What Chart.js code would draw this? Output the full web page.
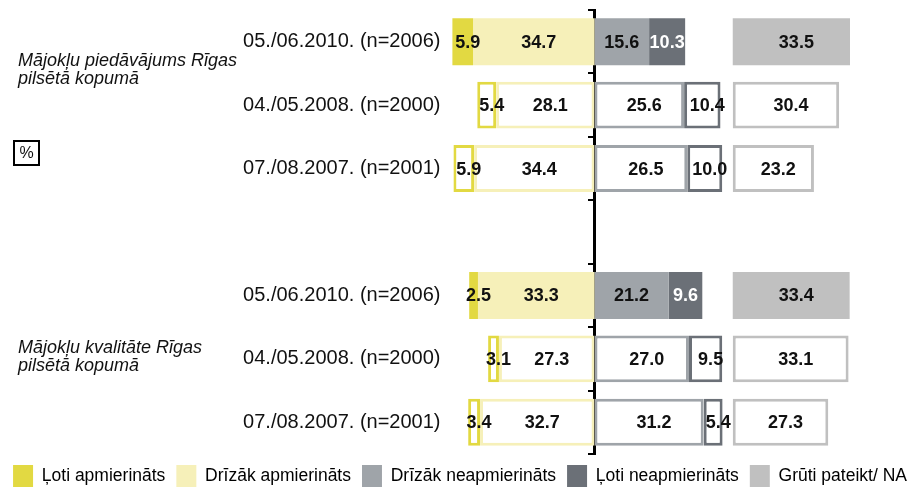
<!DOCTYPE html>
<html>
<head>
<meta charset="utf-8">
<script src="https://cdn.jsdelivr.net/npm/chart.js@4.4.0/dist/chart.umd.min.js"></script>
<style>
  html, body { margin: 0; padding: 0; background: #fff; }
  #wrap { width: 920px; height: 491px; position: relative; }
</style>
</head>
<body>
<div id="wrap"><canvas id="chart"></canvas></div>
<script>
const labels = [
    '05./06.2010. (n=2006)', '04./05.2008. (n=2000)', '07./08.2007. (n=2001)',
    '',
    '05./06.2010. (n=2006)', '04./05.2008. (n=2000)', '07./08.2007. (n=2001)'
];
const veryGood = [5.9, 5.4, 5.9, null, 2.5, 3.1, 3.4];
const ratherGood = [34.7, 28.1, 34.4, null, 33.3, 27.3, 32.7];
const ratherBad = [15.6, 25.6, 26.5, null, 21.2, 27.0, 31.2];
const veryBad = [10.3, 10.4, 10.0, null, 9.6, 9.5, 5.4];
const hardToSay = [33.5, 30.4, 23.2, null, 33.4, 33.1, 27.3];
const seriesNames = ['Ļoti apmierināts', 'Drīzāk apmierināts', 'Drīzāk neapmierināts', 'Ļoti neapmierināts', 'Grūti pateikt/ NA'];
const groupNames = [
    ['Mājokļu piedāvājums Rīgas', 'pilsētā kopumā'],
    ['Mājokļu kvalitāte Rīgas', 'pilsētā kopumā']
];
const colors = ['#e2d942', '#f6f0b9', '#9fa4a9', '#6b7077', '#c0c0c0'];
const naOffset = 39.5; // where the separate NA column starts
const FONT = '"Liberation Sans", Arial, sans-serif';

Chart.defaults.font.family = FONT;

const isLatest = i => labels[i].startsWith('05./06.2010'); // latest survey = filled bars

function makeDataset(idx, values, ranges) {
    return {
        label: seriesNames[idx],
        values: values,
        data: ranges,
        grouped: false,
        backgroundColor: ctx => isLatest(ctx.dataIndex) ? colors[idx] : '#ffffff',
        borderColor: colors[idx],
        borderWidth: ctx => isLatest(ctx.dataIndex) ? 0 : 3,
        borderSkipped: false,
        barPercentage: 0.74,
        categoryPercentage: 1
    };
}

const datasets = [
    makeDataset(0, veryGood, veryGood.map((v, i) => v == null ? null : [-(v + ratherGood[i]), -ratherGood[i]])),
    makeDataset(1, ratherGood, ratherGood.map(v => v == null ? null : [-v, 0])),
    makeDataset(2, ratherBad, ratherBad.map(v => v == null ? null : [0, v])),
    makeDataset(3, veryBad, veryBad.map((v, i) => v == null ? null : [ratherBad[i], ratherBad[i] + v])),
    makeDataset(4, hardToSay, hardToSay.map(v => v == null ? null : [naOffset, naOffset + v]))
];

// numbers inside the bars
const valueLabels = {
    id: 'valueLabels',
    afterDatasetsDraw(chart) {
        const ctx = chart.ctx;
        ctx.save();
        ctx.font = 'bold 18px ' + FONT;
        ctx.textAlign = 'center';
        ctx.textBaseline = 'middle';
        chart.data.datasets.forEach((ds, di) => {
            chart.getDatasetMeta(di).data.forEach((bar, i) => {
                const v = ds.values[i];
                if (v == null) return;
                const mid = (bar.x + bar.base) / 2;
                const shift = (isLatest(i) && (di === 2 || di === 3)) ? 0 : 5;
                ctx.fillStyle = (di === 3 && isLatest(i)) ? '#ffffff' : '#111111';
                ctx.fillText(v.toFixed(1), mid + shift, bar.y + 1);
            });
        });
        ctx.restore();
    }
};

// group titles on the left and the "%" box
const sideNotes = {
    id: 'sideNotes',
    afterDraw(chart) {
        const ctx = chart.ctx;
        const y = chart.scales.y;
        ctx.save();
        ctx.fillStyle = '#111111';
        ctx.font = 'italic 18px ' + FONT;
        ctx.textAlign = 'left';
        ctx.textBaseline = 'middle';
        const anchors = [0.3, 4.83];
        groupNames.forEach((lines, g) => {
            const top = y.getPixelForValue(anchors[g]);
            lines.forEach((line, k) => ctx.fillText(line, 18, top + k * 18));
        });
        ctx.strokeStyle = '#000000';
        ctx.lineWidth = 2;
        ctx.strokeRect(14, 141, 25, 24);
        ctx.font = '16px ' + FONT;
        ctx.textAlign = 'center';
        ctx.fillText('%', 26.5, 153.5);
        ctx.restore();
    }
};

new Chart(document.getElementById('chart'), {
    type: 'bar',
    data: { labels: labels, datasets: datasets },
    options: {
        indexAxis: 'y',
        responsive: true,
        maintainAspectRatio: false,
        animation: false,
        layout: { padding: { left: 0, right: 0, top: 10, bottom: -6 } }, // legend hangs a bit lower
        scales: {
            x: { min: -42, max: 93, display: false },
            y: {
                type: 'category',
                position: 'left',
                offset: true,
                grid: { display: false, offset: true, drawTicks: false, tickLength: 0 },
                border: { display: false },
                ticks: { padding: 7, color: '#111111', font: { size: 20 } },
                afterFit: s => {
                    s.width = 447.5;
                    s.paddingTop = 0; // don't let label height push the plot down
                    s.paddingBottom = 0;
                }
            },
            yc: {
                type: 'category',
                position: { x: 0 },
                offset: true,
                z: 1,
                grid: { offset: true, drawOnChartArea: false, tickLength: 5, color: '#000000', lineWidth: 2 },
                border: { color: '#000000', width: 3 },
                ticks: { display: false }
            }
        },
        plugins: {
            legend: {
                position: 'bottom',
                labels: {
                    boxWidth: 20,
                    boxHeight: 22,
                    padding: 11,
                    color: '#111111',
                    font: { size: 17.5 },
                    generateLabels: () => seriesNames.map((name, i) => ({
                        text: name, fillStyle: colors[i], strokeStyle: colors[i],
                        lineWidth: 0, hidden: false, datasetIndex: i
                    }))
                }
            },
            tooltip: { enabled: false }
        }
    },
    plugins: [valueLabels, sideNotes]
});
</script>
</body>
</html>
